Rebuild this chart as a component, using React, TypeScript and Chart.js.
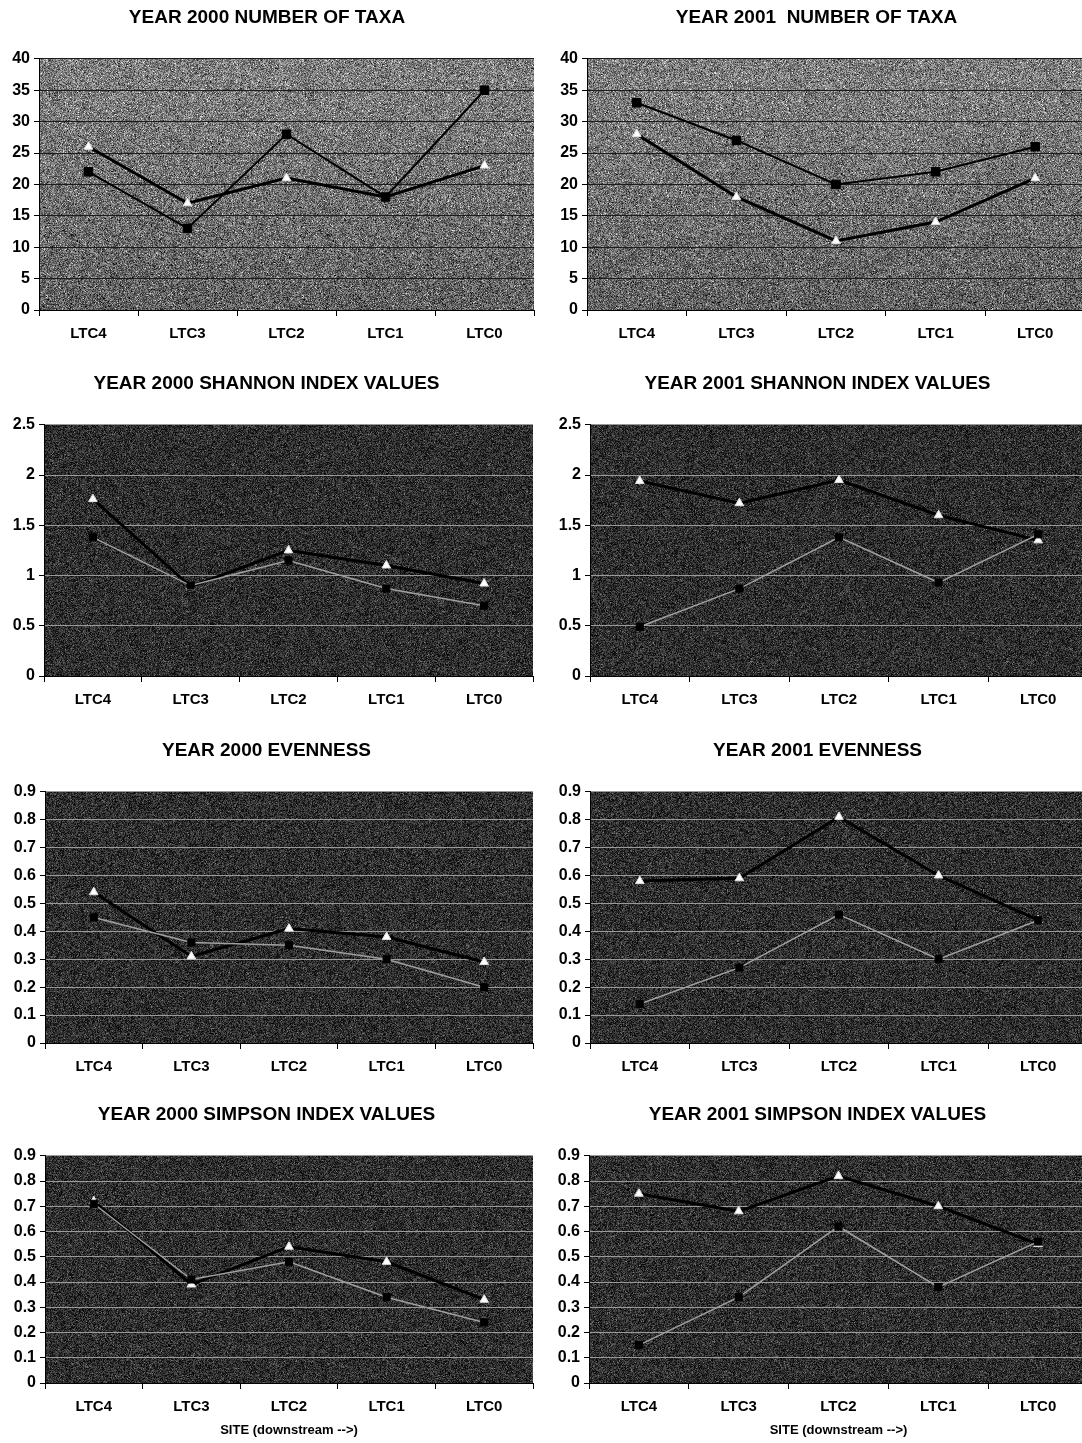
import React, { useEffect, useRef } from "react";
import { Chart, registerables } from "chart.js";

Chart.register(...registerables);

const categories = ["LTC4", "LTC3", "LTC2", "LTC1", "LTC0"];

const taxa2000Squares = [22, 13, 28, 18, 35];
const taxa2000Triangles = [26, 17, 21, 18, 23];
const taxa2001Squares = [33, 27, 20, 22, 26];
const taxa2001Triangles = [28, 18, 11, 14, 21];

const shannon2000Squares = [1.38, 0.9, 1.15, 0.87, 0.7];
const shannon2000Triangles = [1.76, 0.89, 1.25, 1.1, 0.92];
const shannon2001Squares = [0.49, 0.87, 1.38, 0.93, 1.41];
const shannon2001Triangles = [1.94, 1.72, 1.95, 1.6, 1.35];

const evenness2000Squares = [0.45, 0.36, 0.35, 0.3, 0.2];
const evenness2000Triangles = [0.54, 0.31, 0.41, 0.38, 0.29];
const evenness2001Squares = [0.14, 0.27, 0.46, 0.3, 0.44];
const evenness2001Triangles = [0.58, 0.59, 0.81, 0.6, 0.44];

const simpson2000Squares = [0.71, 0.41, 0.48, 0.34, 0.24];
const simpson2000Triangles = [0.72, 0.39, 0.54, 0.48, 0.33];
const simpson2001Squares = [0.15, 0.34, 0.62, 0.38, 0.56];
const simpson2001Triangles = [0.75, 0.68, 0.82, 0.7, 0.55];

const titles = [
  "YEAR 2000 NUMBER OF TAXA",
  "YEAR 2001  NUMBER OF TAXA",
  "YEAR 2000 SHANNON INDEX VALUES",
  "YEAR 2001 SHANNON INDEX VALUES",
  "YEAR 2000 EVENNESS",
  "YEAR 2001 EVENNESS",
  "YEAR 2000 SIMPSON INDEX VALUES",
  "YEAR 2001 SIMPSON INDEX VALUES",
];

const siteAxisTitle = "SITE (downstream -->)";

const FONT = "'Liberation Sans', Arial, sans-serif";

type PanelProps = {
  title: string;
  squares: number[];
  triangles: number[];
  max: number;
  step: number;
  x: number;
  y: number;
  width: number;
  height: number;
  yWidth: number;
  rightPad: number;
  light: boolean;
  axisTitle?: string;
};

function makeNoise(base: number, amp: number, seed: number): HTMLCanvasElement {
  const c = document.createElement("canvas");
  c.width = 256;
  c.height = 256;
  const ctx = c.getContext("2d")!;
  const img = ctx.createImageData(256, 256);
  let s = seed >>> 0;
  for (let i = 0; i < 256 * 256; i++) {
    s = (Math.imul(s, 1664525) + 1013904223) >>> 0;
    const r = s / 4294967296;
    s = (Math.imul(s, 1664525) + 1013904223) >>> 0;
    const r2 = s / 4294967296;
    let v = base + (r - 0.5) * 2 * amp;
    if (r2 > 0.93) v += amp * 1.2;
    if (r2 < 0.07) v -= amp * 1.0;
    v = Math.max(0, Math.min(255, v));
    img.data[i * 4] = v;
    img.data[i * 4 + 1] = v;
    img.data[i * 4 + 2] = v;
    img.data[i * 4 + 3] = 255;
  }
  ctx.putImageData(img, 0, 0);
  return c;
}

function Panel(p: PanelProps) {
  const ref = useRef<HTMLCanvasElement | null>(null);
  useEffect(() => {
    if (!ref.current) return;
    const noise = makeNoise(p.light ? 112 : 46, p.light ? 62 : 36, p.x * 7 + p.y * 13 + 1);
    const bgPlugin = {
      id: "bgNoise",
      beforeDraw(chart: any) {
        const { ctx, chartArea } = chart;
        if (!chartArea) return;
        const pat = ctx.createPattern(noise, "repeat");
        ctx.save();
        ctx.fillStyle = pat;
        ctx.fillRect(chartArea.left, chartArea.top, chartArea.right - chartArea.left, chartArea.bottom - chartArea.top);
        if (p.light) {
          const g = ctx.createLinearGradient(chartArea.left, chartArea.top, chartArea.left, chartArea.bottom);
          g.addColorStop(0, "rgba(255,255,255,0.10)");
          g.addColorStop(1, "rgba(0,0,0,0.15)");
          ctx.fillStyle = g;
          ctx.fillRect(chartArea.left, chartArea.top, chartArea.right - chartArea.left, chartArea.bottom - chartArea.top);
        }
        ctx.restore();
      },
    };
    const gridColor = p.light ? "#1c1c1c" : "#9a9a9a";
    const chart = new Chart(ref.current, {
      type: "line",
      data: {
        labels: categories,
        datasets: [
          {
            label: "squares",
            data: p.squares,
            borderColor: p.light ? "#000000" : "#a0a0a0",
            borderWidth: p.light ? 2 : 1.5,
            pointStyle: "rect",
            pointRadius: p.light ? 6 : 5,
            pointBackgroundColor: "#000000",
            pointBorderColor: "#000000",
            pointBorderWidth: 1,
            tension: 0,
          },
          {
            label: "triangles",
            data: p.triangles,
            borderColor: "#000000",
            borderWidth: 3,
            pointStyle: "triangle",
            pointRadius: 5,
            pointBackgroundColor: "#ffffff",
            pointBorderColor: "#e0e0e0",
            pointBorderWidth: 1,
            tension: 0,
          },
        ],
      },
      options: {
        animation: false,
        responsive: false,
        events: [],
        layout: { padding: { top: 0, left: 0, right: p.rightPad, bottom: 0 } },
        plugins: {
          legend: { display: false },
          tooltip: { enabled: false },
          title: {
            display: true,
            text: p.title,
            color: "#000000",
            font: { family: FONT, size: 19, weight: "bold" },
            padding: { top: 6, bottom: 30 },
          },
        },
        scales: {
          x: {
            type: "category",
            offset: true,
            grid: {
              offset: true,
              drawOnChartArea: false,
              drawTicks: true,
              tickLength: 6,
              color: "#000000",
            },
            border: { display: true, color: "#000000", width: 1 },
            ticks: {
              color: "#000000",
              padding: 9,
              maxRotation: 0,
              font: { family: FONT, size: 15, weight: "bold" },
            },
            title: p.axisTitle
              ? {
                  display: true,
                  text: p.axisTitle,
                  color: "#000000",
                  font: { family: FONT, size: 13, weight: "bold" },
                  padding: { top: 0, bottom: 5 },
                }
              : { display: false },
            afterFit: (scale: any) => {
              scale.height = p.axisTitle ? 60 : 40;
              scale.paddingRight = 0;
              scale.paddingLeft = 0;
            },
          },
          y: {
            min: 0,
            max: p.max,
            grid: {
              color: (ctx: any) => (ctx.tick && ctx.tick.value === 0 ? "#000000" : gridColor),
              lineWidth: 1,
              drawTicks: true,
              tickLength: 5,
              tickColor: "#000000",
            },
            border: { display: true, color: "#000000", width: 1 },
            ticks: {
              stepSize: p.step,
              color: "#000000",
              padding: 4,
              font: { family: FONT, size: 16, weight: "bold" },
              callback: (v: any) => String(Math.round(Number(v) * 10) / 10),
            },
            afterFit: (scale: any) => {
              scale.width = p.yWidth;
            },
          },
        },
      },
      plugins: [bgPlugin],
    } as any);
    return () => chart.destroy();
  }, []);
  return (
    <canvas
      ref={ref}
      width={p.width}
      height={p.height}
      style={{ position: "absolute", left: p.x, top: p.y, width: p.width, height: p.height }}
    />
  );
}

export default function App() {
  const panels: PanelProps[] = [
    { title: titles[0], squares: taxa2000Squares, triangles: taxa2000Triangles, max: 40, step: 5, x: 0, y: 0, width: 541, height: 350, yWidth: 39, rightPad: 7, light: true },
    { title: titles[1], squares: taxa2001Squares, triangles: taxa2001Triangles, max: 40, step: 5, x: 541, y: 0, width: 551, height: 350, yWidth: 46, rightPad: 0, light: true },
    { title: titles[2], squares: shannon2000Squares, triangles: shannon2000Triangles, max: 2.5, step: 0.5, x: 0, y: 366, width: 541, height: 350, yWidth: 44, rightPad: 8, light: false },
    { title: titles[3], squares: shannon2001Squares, triangles: shannon2001Triangles, max: 2.5, step: 0.5, x: 541, y: 366, width: 553, height: 350, yWidth: 49, rightPad: 0, light: false },
    { title: titles[4], squares: evenness2000Squares, triangles: evenness2000Triangles, max: 0.9, step: 0.1, x: 0, y: 733, width: 541, height: 350, yWidth: 45, rightPad: 8, light: false },
    { title: titles[5], squares: evenness2001Squares, triangles: evenness2001Triangles, max: 0.9, step: 0.1, x: 541, y: 733, width: 553, height: 350, yWidth: 49, rightPad: 0, light: false },
    { title: titles[6], squares: simpson2000Squares, triangles: simpson2000Triangles, max: 0.9, step: 0.1, x: 0, y: 1097, width: 541, height: 346, yWidth: 45, rightPad: 8, light: false, axisTitle: siteAxisTitle },
    { title: titles[7], squares: simpson2001Squares, triangles: simpson2001Triangles, max: 0.9, step: 0.1, x: 541, y: 1097, width: 553, height: 346, yWidth: 48, rightPad: 0, light: false, axisTitle: siteAxisTitle },
  ];
  return (
    <div style={{ position: "absolute", left: 0, top: 0, width: 1082, height: 1443, background: "#ffffff", overflow: "hidden" }}>
      {panels.map((p, i) => (
        <Panel key={i} {...p} />
      ))}
    </div>
  );
}
